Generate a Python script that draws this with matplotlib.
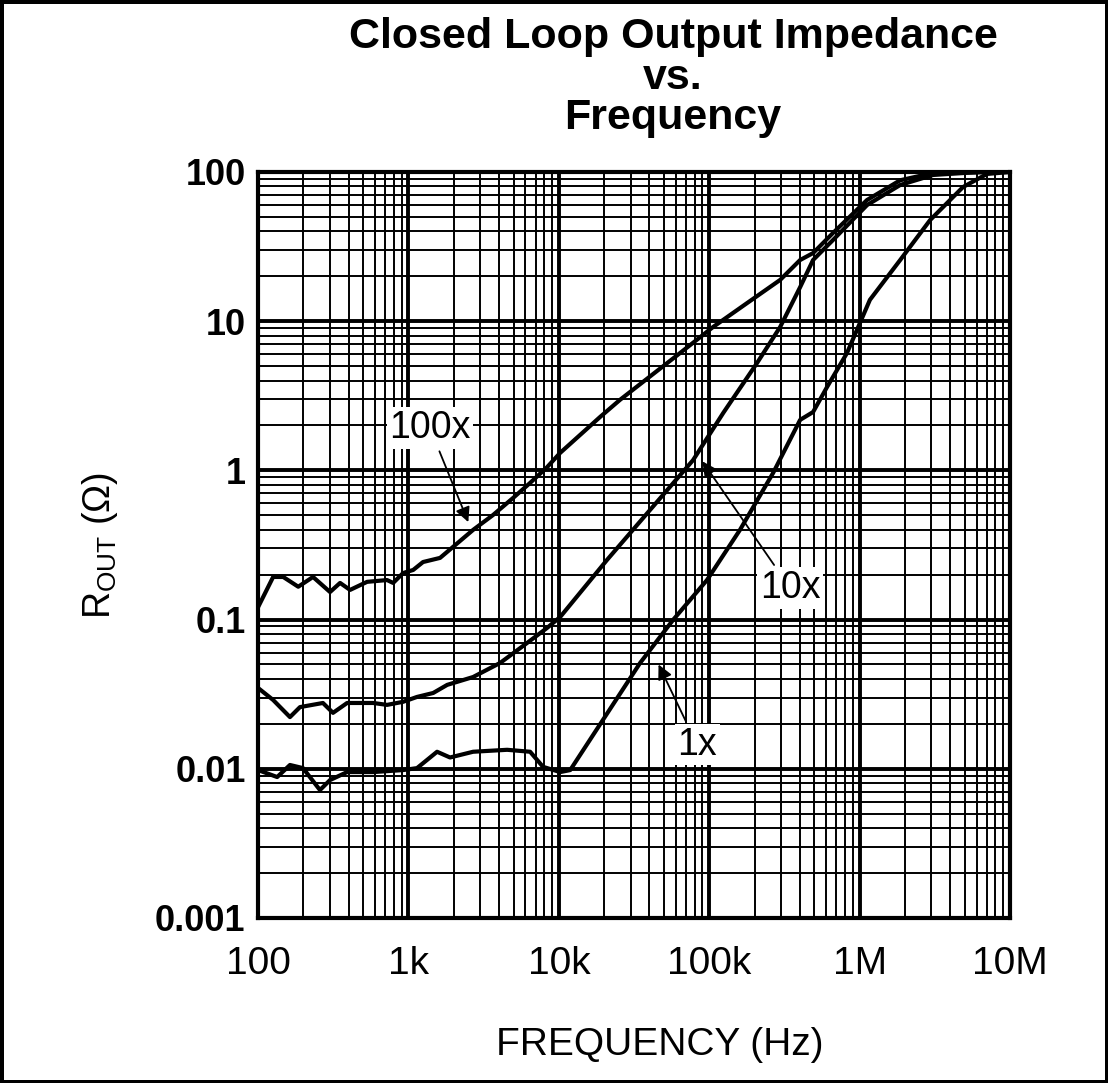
import matplotlib
matplotlib.use('Agg')
import matplotlib.pyplot as plt
from matplotlib.ticker import LogLocator, NullFormatter, FixedLocator, FixedFormatter

# frequency (Hz) / output impedance (ohm)
freq_100x = [100, 126, 147, 185, 232, 301, 351, 409, 531, 721, 791, 921, 1075, 1250,
             1622, 1980, 2690, 3650, 4960, 6440, 8350, 10200, 18800, 25500, 64000,
             106000, 178000, 296000, 402000, 490000, 665000, 1.12e6, 1.86e6, 3.08e6, 1e7]
rout_100x = [0.121, 0.193, 0.193, 0.166, 0.193, 0.153, 0.176, 0.158, 0.179, 0.184, 0.176,
             0.205, 0.215, 0.243, 0.259, 0.307, 0.399, 0.502, 0.653, 0.824, 1.05, 1.31,
             2.28, 2.97, 6.12, 9.14, 13.2, 18.9, 25.7, 28.6, 39.0, 64.9, 88.0, 98.5, 100]

freq_10x = [100, 126, 163, 190, 270, 315, 391, 582, 721, 921, 1140, 1460, 1810, 2690,
            4070, 6150, 8350, 10200, 20900, 40400, 78000, 124000, 208000, 296000,
            402000, 490000, 665000, 1.12e6, 1.86e6, 3.08e6, 6.3e6, 1e7]
rout_10x = [0.0348, 0.0289, 0.0222, 0.0259, 0.0276, 0.0237, 0.0276, 0.0276, 0.0268,
            0.0281, 0.0303, 0.0322, 0.0365, 0.0412, 0.0512, 0.0697, 0.0879, 0.104,
            0.251, 0.543, 1.17, 2.43, 5.25, 9.14, 16.9, 25.7, 35.0, 60.0, 81.8, 95.5,
            100, 100]

freq_1x = [100, 134, 163, 199, 258, 301, 391, 582, 921, 1140, 1550, 1890, 2690, 4530,
           6440, 7850, 10200, 11900, 34700, 57400, 96600, 160000, 266000, 402000,
           490000, 607000, 824000, 1.17e6, 1.86e6, 2.94e6, 4.87e6, 7.03e6, 1e7]
rout_1x = [0.0098, 0.0088, 0.0106, 0.0101, 0.0072, 0.0084, 0.0095, 0.0095, 0.0098,
           0.0101, 0.0130, 0.0119, 0.0130, 0.0134, 0.0130, 0.0103, 0.0095, 0.0098,
           0.0512, 0.0993, 0.184, 0.399, 0.962, 2.18, 2.46, 3.62, 6.12, 13.9, 25.7,
           47.6, 79.3, 97, 100]

x_ticks = [1e2, 1e3, 1e4, 1e5, 1e6, 1e7]
x_labels = ['100', '1k', '10k', '100k', '1M', '10M']
y_ticks = [1e-3, 1e-2, 1e-1, 1, 10, 100]
y_labels = ['0.001', '0.01', '0.1', '1', '10', '100']

# curve labels: (text, text position, arrow tip)
notes = [
    ('100x', (1390, 1.92), (2500, 0.45)),
    ('10x', (344000, 0.163), (90000, 1.15)),
    ('1x', (83000, 0.0145), (46000, 0.05)),
]

plt.rcParams['font.family'] = ['Liberation Sans', 'DejaVu Sans']

fig = plt.figure(figsize=(11.08, 10.83), dpi=100)
fig.patch.set_facecolor('white')
fig.patch.set_edgecolor('black')
fig.patch.set_linewidth(5)

ax = fig.add_axes([0.2329, 0.1524, 0.6787, 0.6888])
ax.set_xscale('log')
ax.set_yscale('log')
ax.set_xlim(1e2, 1e7)
ax.set_ylim(1e-3, 1e2)

ax.xaxis.set_major_locator(FixedLocator(x_ticks))
ax.xaxis.set_major_formatter(FixedFormatter(x_labels))
ax.yaxis.set_major_locator(FixedLocator(y_ticks))
ax.yaxis.set_major_formatter(FixedFormatter(y_labels))
for axis in (ax.xaxis, ax.yaxis):
    axis.set_minor_locator(LogLocator(base=10, subs=range(2, 10), numticks=20))
    axis.set_minor_formatter(NullFormatter())

ax.grid(which='major', color='black', lw=2.8)
ax.grid(which='minor', color='black', lw=1.4)
ax.set_axisbelow(True)
for s in ax.spines.values():
    s.set_linewidth(3)

ax.tick_params(which='both', length=0)
ax.tick_params(axis='x', pad=20, labelsize=28)
ax.tick_params(axis='y', pad=9, labelsize=26)
for lab in ax.get_yticklabels():
    lab.set_fontweight('bold')

ax.plot(freq_100x, rout_100x, color='black', lw=3, zorder=3)
ax.plot(freq_10x, rout_10x, color='black', lw=3, zorder=3)
ax.plot(freq_1x, rout_1x, color='black', lw=3, zorder=3)

for txt, pos, tip in notes:
    ax.annotate(txt, xy=tip, xytext=pos, fontsize=27, ha='center', va='center',
                bbox=dict(fc='white', ec='none', pad=2),
                arrowprops=dict(arrowstyle='-|>', color='black', lw=1.3,
                                mutation_scale=22, shrinkA=2, shrinkB=0),
                zorder=5)

# title, three centred lines
fig.text(0.6074, 1 - 48 / 1083, 'Closed Loop Output Impedance', ha='center',
         va='baseline', fontsize=31, fontweight='bold')
fig.text(0.6074, 1 - 89 / 1083, 'vs.', ha='center', va='baseline',
         fontsize=31, fontweight='bold')
fig.text(0.6074, 1 - 129 / 1083, 'Frequency', ha='center', va='baseline',
         fontsize=31, fontweight='bold')

fig.text(0.5957, 1 - 1045 / 1083, 'FREQUENCY (Hz)', ha='center', va='center',
         fontsize=28)
fig.text(100 / 1108, 1 - 545 / 1083, r'R$\mathregular{_{OUT}}$ (Ω)', ha='center',
         va='center', rotation=90, fontsize=27)

fig.savefig('out.png', dpi=100, facecolor=fig.get_facecolor(),
            edgecolor=fig.get_edgecolor())
